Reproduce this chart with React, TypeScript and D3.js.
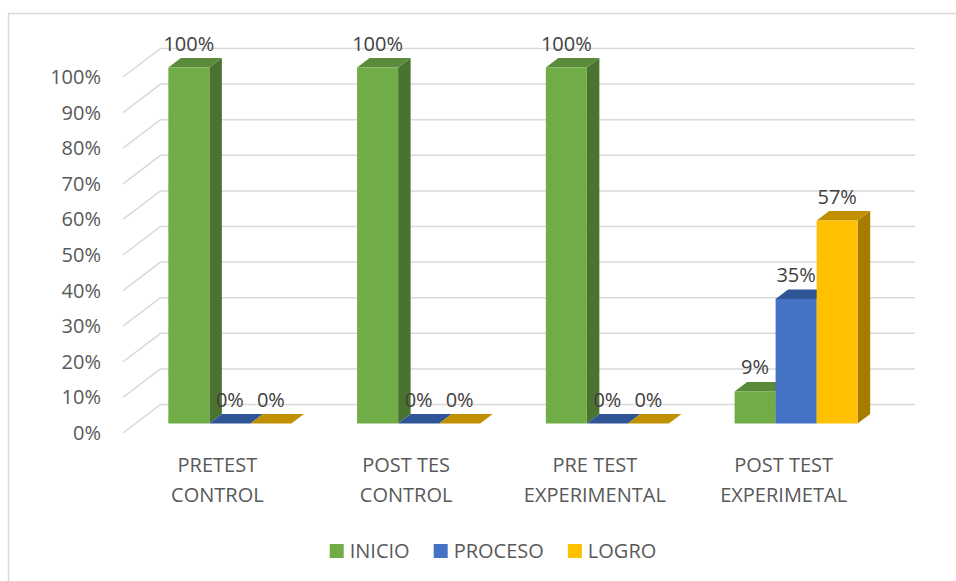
import React, { useEffect, useRef } from 'react';
import * as d3 from 'd3';

// chart data
const categories = ['PRETEST\nCONTROL', 'POST TES\nCONTROL', 'PRE TEST\nEXPERIMENTAL', 'POST TEST\nEXPERIMETAL'];
const seriesNames = ['INICIO', 'PROCESO', 'LOGRO'];
const inicio = [100, 100, 100, 9];
const proceso = [0, 0, 0, 35];
const logro = [0, 0, 0, 57];
const yTicks = [0, 10, 20, 30, 40, 50, 60, 70, 80, 90, 100];

const palette: Record<string, { front: string; side: string; top: string }> = {
	INICIO: { front: '#70AD47', side: '#4A7330', top: '#5A8B3A' },
	PROCESO: { front: '#4472C4', side: '#2F5597', top: '#2F5597' },
	LOGRO: { front: '#FFC000', side: '#A67C00', top: '#C09000' },
};

const W = 956;
const H = 581;
const FONT = '"Open Sans", "Noto Sans", sans-serif';

const App: React.FC = () => {
	const svgRef = useRef<SVGSVGElement>(null);

	useEffect(() => {
		const svg = d3.select(svgRef.current);
		svg.selectAll('*').remove();

		// chart frame
		svg
			.append('rect')
			.attr('x', 8.5)
			.attr('y', 13.5)
			.attr('width', 1000)
			.attr('height', 1000)
			.attr('fill', 'none')
			.attr('stroke', '#D9D9D9')
			.attr('stroke-width', 1.5);

		// front plane of the 3D box, plus depth offset to the back wall
		const x = d3.scaleBand<string>().domain(categories).range([123, 878]).padding(0);
		const sub = d3.scaleBand<string>().domain(seriesNames).range([0, x.bandwidth()]).paddingInner(0).paddingOuter(0.8);
		const y = d3.scaleLinear().domain([0, 100]).range([433, 77]);
		const depth = { dx: 37.5, dy: 28.5 };
		const barShift = { dx: depth.dx / 3, dy: depth.dy / 3 };

		// gridlines: slanted along the floor edge, then along the back wall
		const grid = svg.append('g');
		yTicks.forEach((t) => {
			const yf = y(t);
			grid
				.append('path')
				.attr('d', `M123,${yf} L${123 + depth.dx},${yf - depth.dy} L915,${yf - depth.dy}`)
				.attr('fill', 'none')
				.attr('stroke', '#D9D9D9')
				.attr('stroke-width', 1.5);
		});

		// y tick labels
		svg
			.append('g')
			.selectAll('text')
			.data(yTicks)
			.enter()
			.append('text')
			.attr('x', 101)
			.attr('y', (d) => y(d) + 7)
			.attr('text-anchor', 'end')
			.style('font-family', FONT)
			.style('font-size', '20px')
			.style('fill', '#595959')
			.text((d) => `${d}%`);

		const series = [
			{ name: 'INICIO', values: inicio },
			{ name: 'PROCESO', values: proceso },
			{ name: 'LOGRO', values: logro },
		];

		const bars = svg.append('g');
		const labels = svg.append('g');
		categories.forEach((cat, ci) => {
			series.forEach((s) => {
				const v = s.values[ci];
				const x0 = (x(cat) as number) + (sub(s.name) as number) + barShift.dx;
				const x1 = x0 + sub.bandwidth();
				const yb = y(0) - barShift.dy;
				const yt = y(v) - barShift.dy;
				const { dx, dy } = barShift;
				const c = palette[s.name];
				// side
				bars
					.append('path')
					.attr('d', `M${x1},${yt} L${x1 + dx},${yt - dy} L${x1 + dx},${yb - dy} L${x1},${yb} Z`)
					.attr('fill', c.side);
				// top
				bars
					.append('path')
					.attr('d', `M${x0},${yt} L${x0 + dx},${yt - dy} L${x1 + dx},${yt - dy} L${x1},${yt} Z`)
					.attr('fill', c.top);
				// front
				if (v > 0) {
					bars
						.append('rect')
						.attr('x', x0)
						.attr('y', yt)
						.attr('width', sub.bandwidth())
						.attr('height', yb - yt)
						.attr('fill', c.front);
				}
				labels
					.append('text')
					.attr('x', (x0 + x1) / 2)
					.attr('y', yt - 17)
					.attr('text-anchor', 'middle')
					.style('font-family', FONT)
					.style('font-size', '20px')
					.style('fill', '#404040')
					.text(`${v}%`);
			});
		});

		// category labels
		const cats = svg.append('g');
		categories.forEach((cat) => {
			const cx = (x(cat) as number) + x.bandwidth() / 2;
			const t = cats
				.append('text')
				.attr('text-anchor', 'middle')
				.style('font-family', FONT)
				.style('font-size', '20px')
				.style('fill', '#595959');
			cat.split('\n').forEach((line, i) => {
				t.append('tspan').attr('x', cx).attr('y', 472 + i * 30).text(line);
			});
		});

		// legend, centered under the chart
		const legend = svg.append('g');
		let cursor = 0;
		seriesNames.forEach((name, i) => {
			const g = legend.append('g').attr('transform', `translate(${cursor},0)`);
			g.append('rect').attr('x', 0).attr('y', -7).attr('width', 14).attr('height', 14).attr('fill', palette[name].front);
			const txt = g
				.append('text')
				.attr('x', 20)
				.attr('y', 7)
				.style('font-family', FONT)
				.style('font-size', '20px')
				.style('fill', '#595959')
				.text(name);
			const w = (txt.node() as SVGTextElement).getComputedTextLength();
			cursor += 20 + w + (i < seriesNames.length - 1 ? 24 : 0);
		});
		legend.attr('transform', `translate(${493 - cursor / 2},551)`);
	}, []);

	return (
		<svg
			ref={svgRef}
			width={W}
			height={H}
			style={{ position: 'absolute', left: 0, top: 0, background: '#fff' }}
		/>
	);
};

export default App;
